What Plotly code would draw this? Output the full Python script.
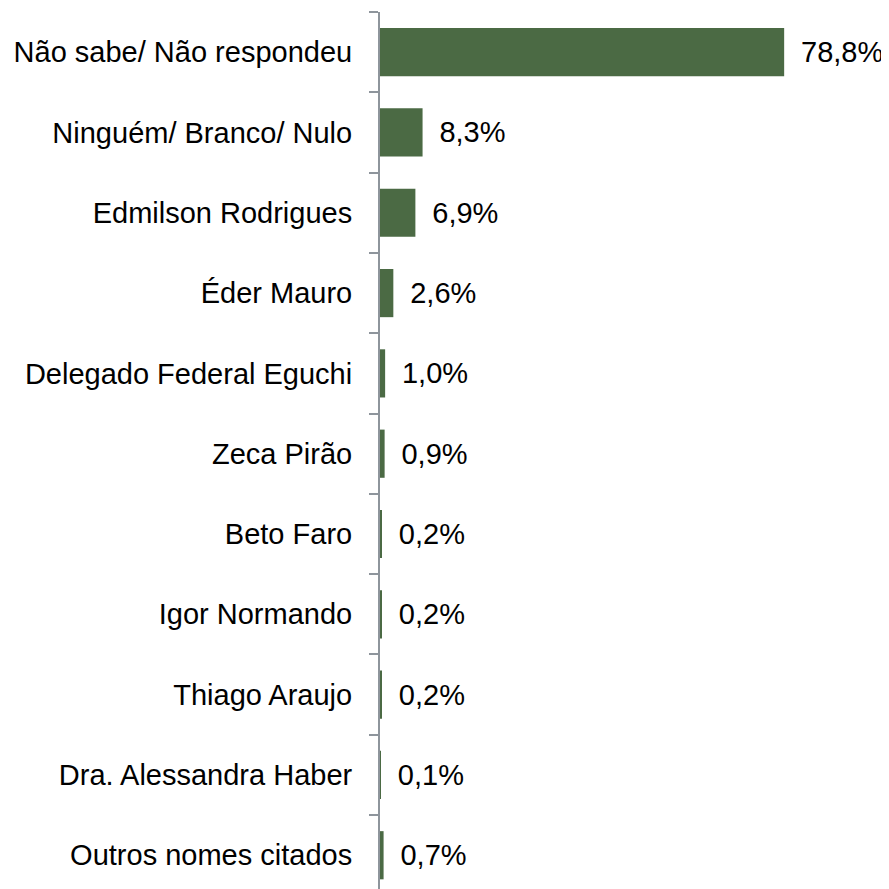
import plotly.graph_objects as go

candidatos = ["Não sabe/ Não respondeu", "Ninguém/ Branco/ Nulo", "Edmilson Rodrigues",
              "Éder Mauro", "Delegado Federal Eguchi", "Zeca Pirão", "Beto Faro",
              "Igor Normando", "Thiago Araujo", "Dra. Alessandra Haber", "Outros nomes citados"]
percentuais = [78.8, 8.3, 6.9, 2.6, 1.0, 0.9, 0.2, 0.2, 0.2, 0.1, 0.7]

rotulos = ["\u00a0\u2009" + f"{v:.1f}".replace(".", ",") + "%" for v in percentuais]

fig = go.Figure()
fig.add_trace(go.Bar(
    x=percentuais, y=candidatos, orientation="h",
    marker=dict(color="#4b6a44", line=dict(width=0)),
    text=rotulos, textposition="outside", cliponaxis=False,
    textfont=dict(size=29, color="#000000", family="Liberation Sans, Arial"),
))

# a página tem 8px de margem no body, por isso l=372 e t=4
fig.update_layout(
    width=889, height=889,
    margin=dict(l=372, r=0, t=4, b=0),
    paper_bgcolor="white", plot_bgcolor="white",
    bargap=0.40, showlegend=False,
    font=dict(family="Liberation Sans, Arial", size=29, color="#000000"),
)
fig.update_xaxes(range=[0, 100.8], visible=False)
fig.update_yaxes(
    range=[10.52, -0.5], tickson="boundaries", ticks="outside", ticklen=9,
    tickcolor="#8e959c", tickwidth=2, showline=True, linecolor="#8e959c",
    linewidth=2, showgrid=False, ticklabelstandoff=20, automargin=False,
)

fig.write_html("out.html")
